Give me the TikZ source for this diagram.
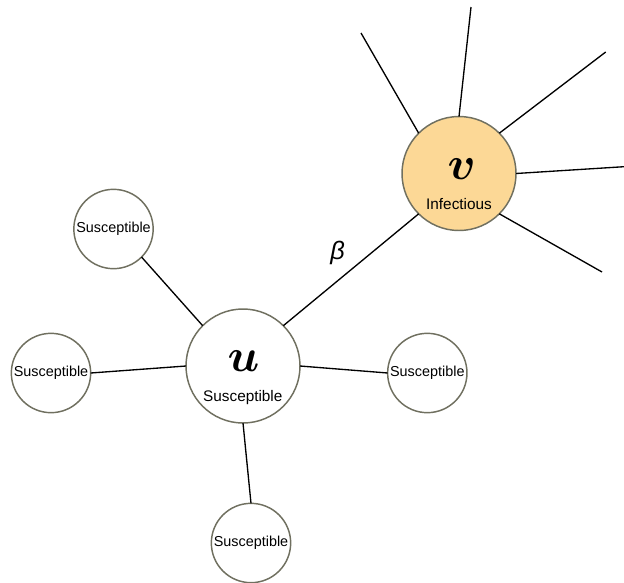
\documentclass[tikz,border=0pt]{standalone}
\usepackage{fix-cm}
\usepackage{fontspec}
\setmainfont{Liberation Sans}
\usepackage{amsmath}
\definecolor{rim}{RGB}{112,112,96}
\definecolor{infect}{RGB}{252,216,150}

\begin{document}
\begin{tikzpicture}[x=0.75pt, y=-0.75pt, line width=1pt,
                    hub/.style={circle, draw=rim, line width=1.1pt, fill=white,
                      minimum size=85.5pt, inner sep=0pt, outer sep=0pt},
                    leaf/.style={circle, draw=rim, line width=1.1pt, fill=white,
                      minimum size=59.5pt, inner sep=0pt, outer sep=0pt,
                      font=\fontsize{10.8}{12}\selectfont},
                    statetext/.style={anchor=base, inner sep=0pt,
                      font=\fontsize{11.5}{13}\selectfont},
                    letter/.style={inner sep=0pt, font=\fontsize{35}{40}\selectfont}]
  \useasboundingbox (0,0) rectangle (624,582);
  \node[hub, fill=infect] (v) at (459,173.5) {};
  \node[letter] (vname) at (461.7,168.8) {$\boldsymbol{v}$};
  \node[statetext] (vstate) at (459,209.3) {Infectious};
  \node[hub] (u) at (243,366) {};
  \node[letter] (uname) at (243.5,360.7) {$\boldsymbol{u}$};
  \node[statetext] (ustate) at (242.8,401.7) {Susceptible};
  \node[leaf] (s1) at (113.5,229) {Susceptible};
  \node[leaf] (s2) at (51,373) {Susceptible};
  \node[leaf] (s3) at (427.3,373) {Susceptible};
  \node[leaf] (s4) at (251,543) {Susceptible};
  \coordinate (e1) at (361,33);
  \coordinate (e2) at (471,7);
  \coordinate (e3) at (605.7,52);
  \coordinate (e4) at (624,166.7);
  \coordinate (e5) at (602,272);
  \draw (u.45) -- (v.225);
  \node (beta) at (337.5,252.5) {\fontsize{19}{20}\selectfont\itshape β};
  \draw (s1.-45) -- (u.135);
  \draw (s2.0) -- (u.180);
  \draw (s3.180) -- (u.0);
  \draw (s4.90) -- (u.270);
  \draw (v.135) -- (e1);
  \draw (v.90) -- (e2);
  \draw (v.45) -- (e3);
  \draw (v.0) -- (e4);
  \draw (v.-45) -- (e5);
\end{tikzpicture}
\end{document}
